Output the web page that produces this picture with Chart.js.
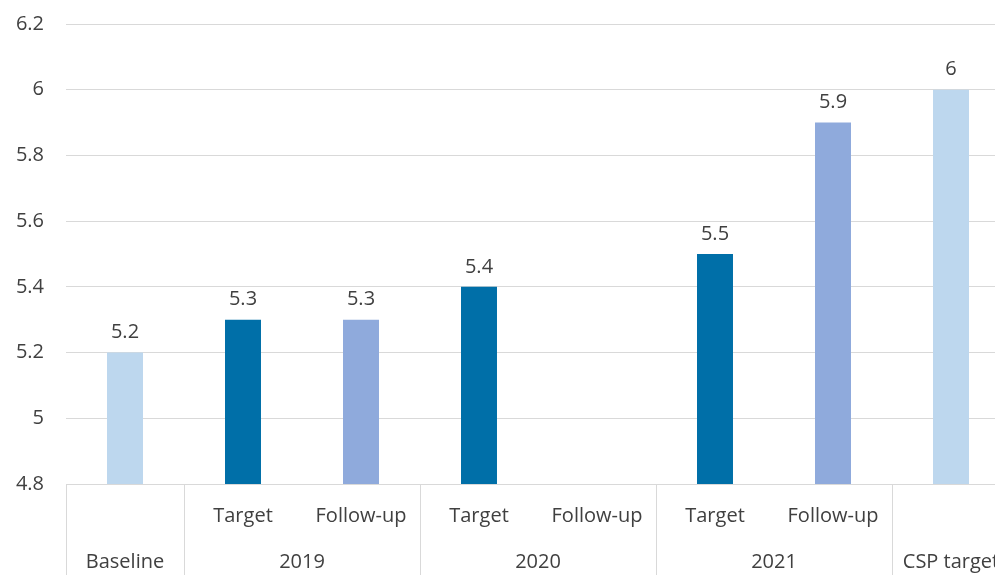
<!DOCTYPE html>
<html lang="en">
<head>
<meta charset="UTF-8">
<title>Indicator chart</title>
<script src="https://cdn.jsdelivr.net/npm/chart.js"></script>
<style>
    html, body { margin: 0; padding: 0; background: #fff; overflow: hidden; }
    #wrap { width: 1012px; height: 575px; }
</style>
</head>
<body>
<div id="wrap"><canvas id="chart" width="1012" height="575"></canvas></div>
<script>
    // data
    const subLabels = ['', 'Target', 'Follow-up', 'Target', 'Follow-up', 'Target', 'Follow-up', ''];
    const groupLabels = ['Baseline', '2019', '2020', '2021', 'CSP target'];
    const groupSpans = [1, 2, 2, 2, 1];
    const values = [5.2, 5.3, 5.3, 5.4, null, 5.5, 5.9, 6];
    const barColors = ['#bdd7ee', '#006fa8', '#8faadc', '#006fa8', '#8faadc', '#006fa8', '#8faadc', '#bdd7ee'];

    const FONT = 'Open Sans';
    const SIZE = 20;
    const TEXT = '#404040';
    const GRID = '#d9d9d9';

    // group labels, separators and value labels
    const groupPlugin = {
        id: 'groups',
        afterDraw(chart) {
            const ctx = chart.ctx;
            const x = chart.scales.x;
            const area = chart.chartArea;
            const half = (x.getPixelForValue(1) - x.getPixelForValue(0)) / 2;
            ctx.save();
            ctx.strokeStyle = GRID;
            ctx.lineWidth = 1;
            ctx.fillStyle = TEXT;
            ctx.font = SIZE + 'px "' + FONT + '"';
            ctx.textAlign = 'center';
            ctx.textBaseline = 'middle';

            let left = Math.round(x.getPixelForValue(0) - half) + 0.5;
            ctx.beginPath();
            ctx.moveTo(left, area.bottom);
            ctx.lineTo(left, chart.height);
            ctx.stroke();

            let idx = 0;
            groupSpans.forEach((span, g) => {
                const start = x.getPixelForValue(idx) - half;
                const end = x.getPixelForValue(idx + span - 1) + half;
                const ex = Math.round(end) + 0.5;
                ctx.beginPath();
                ctx.moveTo(ex, area.bottom);
                ctx.lineTo(ex, chart.height);
                ctx.stroke();
                ctx.fillText(groupLabels[g], (start + end) / 2, 562);
                idx += span;
            });

            // value labels above bars
            ctx.textBaseline = 'bottom';
            chart.getDatasetMeta(0).data.forEach((bar, i) => {
                if (values[i] == null) return;
                ctx.fillText(String(values[i]), bar.x, bar.y - 10);
            });
            ctx.restore();
        }
    };

    new Chart(document.getElementById('chart'), {
        type: 'bar',
        data: {
            labels: subLabels,
            datasets: [{
                data: values,
                backgroundColor: barColors,
                barPercentage: 0.305,
                categoryPercentage: 1
            }]
        },
        options: {
            responsive: false,
            animation: false,
            devicePixelRatio: 1,
            layout: { padding: { top: 24, right: 2, left: 0, bottom: 0 } },
            plugins: {
                legend: { display: false },
                tooltip: { enabled: false }
            },
            scales: {
                x: {
                    grid: { display: false },
                    border: { display: true, color: GRID },
                    ticks: {
                        color: TEXT,
                        font: { family: FONT, size: SIZE },
                        padding: 12,
                        maxRotation: 0,
                        autoSkip: false
                    },
                    afterFit(scale) { scale.height = 91; }
                },
                y: {
                    min: 4.8,
                    max: 6.2,
                    ticks: {
                        stepSize: 0.2,
                        color: TEXT,
                        font: { family: FONT, size: SIZE },
                        padding: 22,
                        callback: v => String(Math.round(v * 10) / 10)
                    },
                    grid: { color: GRID, drawTicks: false },
                    border: { display: false },
                    afterFit(scale) {
                        scale.width = 66;
                        scale.paddingTop = 0;
                        scale.paddingBottom = 0;
                    }
                }
            }
        },
        plugins: [groupPlugin]
    });
</script>
</body>
</html>
